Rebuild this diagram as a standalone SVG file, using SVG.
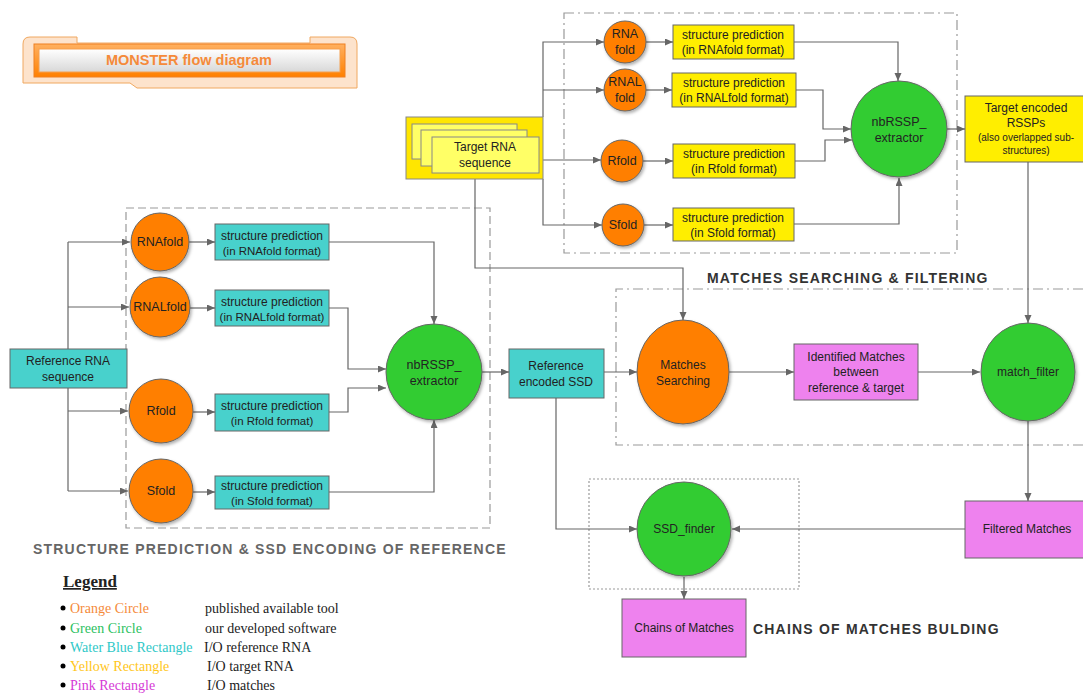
<svg xmlns="http://www.w3.org/2000/svg" width="1083" height="695" viewBox="0 0 1083 695">
<style>
text{font-family:"Liberation Sans",Arial,sans-serif;fill:#222;}
.t12{font-size:12px;text-anchor:middle;}
.t11{font-size:11.5px;text-anchor:middle;}
.t13{font-size:12.5px;text-anchor:middle;}
.t10{font-size:10px;text-anchor:middle;}
.orange{fill:#ff7f00;stroke:#666;stroke-width:1;filter:url(#sh);}
.green{fill:#33cc33;stroke:#666;stroke-width:1;filter:url(#sh);}
.cyan{fill:#48d1cc;stroke:#666;stroke-width:1;}
.yellow{fill:#ffee00;stroke:#666;stroke-width:1;}
.pink{fill:#ee82ee;stroke:#666;stroke-width:1;}
.conn path{fill:none;stroke:#666;stroke-width:1.2;marker-end:url(#ar);}
.conn path.nm{marker-end:none;}
.box{fill:none;stroke:#999;stroke-width:1.2;}
.sec{font-size:14px;font-weight:bold;letter-spacing:1.2px;}
.leg{font-family:"Liberation Serif","Times New Roman",serif;font-size:14px;}
</style>
<defs>
<marker id="ar" markerWidth="9" markerHeight="8" refX="8" refY="3.5" orient="auto" markerUnits="userSpaceOnUse">
<path d="M0,0 L8,3.5 L0,7 z" fill="#666"/>
</marker>
<filter id="sh" x="-20%" y="-20%" width="150%" height="150%">
<feDropShadow dx="1.5" dy="2" stdDeviation="1.5" flood-color="#000" flood-opacity="0.3"/>
</filter>
<linearGradient id="gOr" x1="0" y1="0" x2="0" y2="1">
<stop offset="0" stop-color="#ffb060"/><stop offset="1" stop-color="#ff8000"/>
</linearGradient>
<linearGradient id="gWh" x1="0" y1="0" x2="0" y2="1">
<stop offset="0" stop-color="#ffffff"/><stop offset="1" stop-color="#d8d8d8"/>
</linearGradient>
</defs>
<rect width="1083" height="695" fill="#ffffff"/>

<g id="title">
<path d="M30,37 H77 V43 H310 V37 H350 Q357,37 357,44 V88 H137 L130,83 H23 V44 Q23,37 30,37 Z" fill="#fde3cc" stroke="#f0a860" stroke-width="1"/>
<rect x="34" y="44" width="311" height="33" fill="url(#gOr)" stroke="#f08020" stroke-width="1"/>
<rect x="39" y="49" width="301" height="23" fill="url(#gWh)" stroke="#f5a050" stroke-width="1"/>
<text x="189" y="65" style="font-size:14.5px;font-weight:bold;fill:#f58a3a;text-anchor:middle">MONSTER flow diagram</text>
</g>

<g id="sections">
<rect class="box" x="126" y="208" width="364" height="320" stroke-dasharray="8 4"/>
<text class="sec" x="33" y="554" style="fill:#666">STRUCTURE PREDICTION &amp; SSD ENCODING OF REFERENCE</text>
<rect class="box" x="564" y="13" width="393" height="240" stroke-dasharray="10 4 2 4"/>
<path class="box" d="M1083,289 H616 V445 H1083" stroke-dasharray="10 4 2 4"/>
<text class="sec" x="707" y="283" style="fill:#333">MATCHES SEARCHING &amp; FILTERING</text>
<rect class="box" x="589" y="479" width="210" height="110" stroke-dasharray="2 2"/>
<text class="sec" x="753" y="634" style="fill:#333">CHAINS OF MATCHES BULDING</text>
</g>

<g class="conn" id="connectors">
<path class="nm" d="M68,349 V242"/>
<path d="M68,242 H130"/>
<path d="M68,307 H129"/>
<path class="nm" d="M68,388 V491"/>
<path d="M68,411 H128"/>
<path d="M68,491 H128"/>
<path d="M189,242 H215"/>
<path d="M190,308 H215"/>
<path d="M193,412 H215"/>
<path d="M193,492 H215"/>
<path d="M329,242 H434 V324"/>
<path d="M329,308 H348 V369 H386"/>
<path d="M329,412 H348 V388 H386"/>
<path d="M329,492 H434 V420"/>
<path d="M482,372 H509"/>
<path d="M604,372 H637"/>
<path d="M729,372 H794"/>
<path d="M918,372 H980"/>
<path d="M1028,162 V323"/>
<path d="M1028,421 V501"/>
<path d="M965,529 H732"/>
<path d="M556,398 V529 H637"/>
<path d="M684,577 V599"/>
<path d="M475,179 V268 H683 V320"/>
<path d="M543,117 V42 H604"/>
<path d="M543,90 H604"/>
<path d="M543,179 V225 H602"/>
<path d="M543,160 H601"/>
<path d="M646,42 H673"/>
<path d="M646,90 H672"/>
<path d="M643,161 H673"/>
<path d="M644,225 H673"/>
<path d="M794,42 H898 V81"/>
<path d="M796,90 H823 V129 H851"/>
<path d="M795,161 H825 V140 H852"/>
<path d="M794,224 H899 V178"/>
<path d="M947,129 H965"/>
</g>

<g id="ref_seq"><rect class="cyan" x="10" y="349" width="117" height="39"/>
<text class="t12" x="68" y="365">Reference RNA</text><text class="t12" x="68" y="381">sequence</text></g>

<g id="ref_rnafold"><circle class="orange" cx="160" cy="242" r="29"/><text class="t13" x="160" y="246">RNAfold</text></g>
<g id="ref_rnalfold"><circle class="orange" cx="160" cy="307" r="30"/><text class="t13" x="160" y="311">RNALfold</text></g>
<g id="ref_rfold"><circle class="orange" cx="161" cy="411" r="32"/><text class="t13" x="161" y="415">Rfold</text></g>
<g id="ref_sfold"><circle class="orange" cx="161" cy="491" r="32"/><text class="t13" x="161" y="495">Sfold</text></g>

<g id="ref_sp1"><rect class="cyan" x="215" y="224" width="114" height="36"/>
<text class="t12" x="272" y="240">structure prediction</text><text class="t11" x="272" y="255">(in RNAfold format)</text></g>
<g id="ref_sp2"><rect class="cyan" x="215" y="290" width="114" height="36"/>
<text class="t12" x="272" y="306">structure prediction</text><text class="t11" x="272" y="321">(in RNALfold format)</text></g>
<g id="ref_sp3"><rect class="cyan" x="215" y="394" width="114" height="37"/>
<text class="t12" x="272" y="410">structure prediction</text><text class="t11" x="272" y="425">(in Rfold format)</text></g>
<g id="ref_sp4"><rect class="cyan" x="215" y="476" width="114" height="33"/>
<text class="t12" x="272" y="490">structure prediction</text><text class="t11" x="272" y="505">(in Sfold format)</text></g>

<g id="ref_extractor"><circle class="green" cx="434" cy="372" r="48"/>
<text class="t13" x="434" y="369">nbRSSP_</text><text class="t13" x="434" y="385">extractor</text></g>

<g id="ref_ssd"><rect class="cyan" x="509" y="349" width="95" height="49"/>
<text class="t12" x="556" y="370">Reference</text><text class="t12" x="556" y="386">encoded SSD</text></g>

<g id="target_seq">
<rect x="406" y="117" width="137" height="62" fill="#ffe600" stroke="#888" stroke-width="1"/>
<rect x="412" y="124" width="105" height="35" fill="#ffff66" stroke="#888" stroke-width="1"/>
<rect x="421" y="130" width="106" height="36" fill="#ffff66" stroke="#888" stroke-width="1"/>
<rect x="432" y="137" width="107" height="36" fill="#ffff66" stroke="#888" stroke-width="1"/>
<text class="t12" x="485" y="151">Target RNA</text><text class="t12" x="485" y="167">sequence</text></g>

<g id="tgt_rnafold"><circle class="orange" cx="625" cy="42" r="21"/><text class="t13" x="625" y="38">RNA</text><text class="t13" x="625" y="54">fold</text></g>
<g id="tgt_rnalfold"><circle class="orange" cx="625" cy="90" r="21"/><text class="t13" x="625" y="86">RNAL</text><text class="t13" x="625" y="102">fold</text></g>
<g id="tgt_rfold"><circle class="orange" cx="622" cy="161" r="21"/><text class="t13" x="622" y="165">Rfold</text></g>
<g id="tgt_sfold"><circle class="orange" cx="623" cy="225" r="21"/><text class="t13" x="623" y="229">Sfold</text></g>

<g id="tgt_sp1"><rect class="yellow" x="673" y="25" width="121" height="34"/>
<text class="t12" x="733" y="39">structure prediction</text><text class="t12" x="733" y="54">(in RNAfold format)</text></g>
<g id="tgt_sp2"><rect class="yellow" x="672" y="73" width="124" height="34"/>
<text class="t12" x="734" y="87">structure prediction</text><text class="t12" x="734" y="102">(in RNALfold format)</text></g>
<g id="tgt_sp3"><rect class="yellow" x="673" y="144" width="122" height="34"/>
<text class="t12" x="734" y="158">structure prediction</text><text class="t12" x="734" y="173">(in Rfold format)</text></g>
<g id="tgt_sp4"><rect class="yellow" x="673" y="208" width="121" height="33"/>
<text class="t12" x="733" y="222">structure prediction</text><text class="t12" x="733" y="237">(in Sfold format)</text></g>

<g id="tgt_extractor"><circle class="green" cx="899" cy="129" r="48"/>
<text class="t13" x="899" y="126">nbRSSP_</text><text class="t13" x="899" y="142">extractor</text></g>

<g id="tgt_rssp"><rect class="yellow" x="965" y="96" width="125" height="66"/>
<text class="t12" x="1026" y="112">Target encoded</text><text class="t12" x="1026" y="127">RSSPs</text>
<text class="t10" x="1026" y="141">(also overlapped sub-</text><text class="t10" x="1026" y="154">structures)</text></g>

<g id="matches_searching"><ellipse class="orange" cx="683" cy="372" rx="46" ry="52"/>
<text class="t12" x="683" y="369">Matches</text><text class="t12" x="683" y="385">Searching</text></g>

<g id="identified"><rect class="pink" x="794" y="344" width="124" height="56"/>
<text class="t12" x="856" y="361">Identified Matches</text><text class="t12" x="856" y="376">between</text><text class="t12" x="856" y="392">reference &amp; target</text></g>

<g id="match_filter"><ellipse class="green" cx="1028" cy="372" rx="47" ry="49"/>
<text class="t12" x="1028" y="376">match_filter</text></g>

<g id="filtered"><rect class="pink" x="965" y="501" width="125" height="57"/>
<text class="t12" x="1027" y="533">Filtered Matches</text></g>

<g id="ssd_finder"><circle class="green" cx="684" cy="529" r="47"/>
<text class="t12" x="684" y="533">SSD_finder</text></g>

<g id="chains"><rect class="pink" x="622" y="599" width="124" height="58"/>
<text class="t12" x="684" y="632">Chains of Matches</text></g>

<g id="legend">
<text class="leg" x="63" y="587" style="font-size:17px;font-weight:bold;text-decoration:underline">Legend</text>
<circle cx="63" cy="608" r="2.5" fill="#000"/><text class="leg" x="70" y="613" style="fill:#f58a3a">Orange Circle</text><text class="leg" x="205" y="613">published available tool</text>
<circle cx="63" cy="628" r="2.5" fill="#000"/><text class="leg" x="70" y="633" style="fill:#2cbf5f">Green Circle</text><text class="leg" x="205" y="633">our developed software</text>
<circle cx="63" cy="647" r="2.5" fill="#000"/><text class="leg" x="70" y="652" style="fill:#2ec8c8">Water Blue Rectangle</text><text class="leg" x="204" y="652">I/O reference RNA</text>
<circle cx="63" cy="666" r="2.5" fill="#000"/><text class="leg" x="70" y="671" style="fill:#ffc61a">Yellow Rectangle</text><text class="leg" x="207" y="671">I/O target RNA</text>
<circle cx="63" cy="685" r="2.5" fill="#000"/><text class="leg" x="70" y="690" style="fill:#d63ad6">Pink Rectangle</text><text class="leg" x="207" y="690">I/O matches</text>
</g>
</svg>
